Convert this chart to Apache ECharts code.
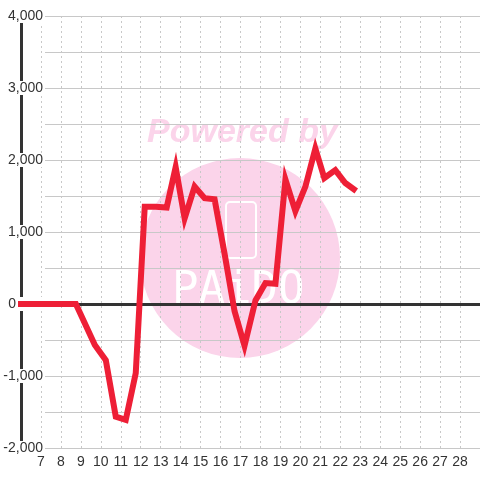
<!DOCTYPE html>
<html>
<head>
<meta charset="utf-8">
<script src="https://cdn.jsdelivr.net/npm/echarts@6/dist/echarts.min.js"></script>
<style>
  html, body { margin: 0; padding: 0; background: #fff; }
  #chart { width: 480px; height: 480px; }
</style>
</head>
<body>
<div id="chart"></div>
<script>
// x positions (days) and values
const xs = [5.8, 8.75, 9.7, 10.25, 10.75, 11.25, 11.75, 12.2, 12.75, 13.3, 13.75, 14.2, 14.7, 15.2, 15.7,
            16.2, 16.7, 17.2, 17.75, 18.25, 18.75, 19.25, 19.75, 20.25, 20.75, 21.2, 21.75, 22.25, 22.8]
const values = [0, 0, -570, -780, -1565, -1610, -960, 1350, 1350, 1340, 1900, 1190, 1630, 1470, 1455,
                700, -100, -580, 50, 290, 280, 1730, 1290, 1630, 2160, 1750, 1860, 1680, 1570]
const yTicks = [-2000, -1000, 0, 1000, 2000, 3000, 4000]

const chart = echarts.init(document.getElementById('chart'))

// "0" sits left of where the line starts, others end near x=43
const fmt = v => v === 0 ? '{z|0}' : v.toLocaleString('en-US')

chart.setOption({
    animation: false,
    backgroundColor: '#fff',
    textStyle: { fontFamily: 'Liberation Sans' },
    grid: [
        { left: 21, width: 460, top: 16, bottom: 32 },
        { left: 45, right: 0, top: 16, bottom: 32 }
    ],
    graphic: [
        {
            type: 'circle', z: -10,
            shape: { cx: 240, cy: 258, r: 100 },
            style: { fill: '#fbd4ea' }
        },
        {
            type: 'text', z: -10, left: 147, top: 116,
            style: {
                text: 'Powered by', fill: '#fbd4ea',
                font: 'italic bold 34px "Liberation Sans"'
            }
        },
        {
            type: 'rect', z: -9,
            shape: { x: 226, y: 202, width: 30, height: 56, r: 4 },
            style: { fill: 'none', stroke: '#fff', lineWidth: 2 }
        },
        {
            type: 'text', z: -9, left: 172, top: 270,
            style: {
                text: 'PAiDO', fill: '#fff',
                font: '44px "DejaVu Sans Mono"'
            }
        }
    ],
    xAxis: [
        {
            type: 'value', gridIndex: 0, min: 6, max: 29, interval: 1,
            axisLine: { show: false },
            axisTick: { show: false },
            axisLabel: {
                color: '#333', fontSize: 14, margin: 7,
                showMinLabel: false, showMaxLabel: false
            },
            splitLine: { show: true, lineStyle: { color: '#c8c8c8', type: [2, 3] } }
        },
        {
            type: 'value', gridIndex: 1, min: 0, max: 1,
            axisLine: { show: true, onZero: true, lineStyle: { color: '#333', width: 3 } },
            axisTick: { show: false },
            axisLabel: { show: false },
            splitLine: { show: false }
        }
    ],
    yAxis: [
        {
            type: 'value', gridIndex: 0, min: yTicks[0], max: yTicks[yTicks.length - 1], interval: 1000,
            axisLine: { show: true, lineStyle: { color: '#333', width: 3 } },
            axisTick: { show: false },
            axisLabel: {
                color: '#333', fontSize: 14, margin: -22, lineHeight: 14,
                backgroundColor: '#fff',
                formatter: fmt,
                rich: {
                    z: { color: '#333', fontSize: 14, padding: [0, 27, 0, 0], backgroundColor: 'transparent' }
                }
            },
            splitLine: { show: false }
        },
        {
            type: 'value', gridIndex: 1, min: -2000, max: 4000, interval: 500,
            axisLine: { show: false },
            axisTick: { show: false },
            axisLabel: { show: false },
            splitLine: { show: true, lineStyle: { color: '#c8c8c8', width: 1 } }
        }
    ],
    series: [
        {
            type: 'line',
            xAxisIndex: 0, yAxisIndex: 0,
            data: xs.map((x, i) => [x, values[i]]),
            showSymbol: false,
            clip: false,
            lineStyle: { color: '#ee1f36', width: 6, join: 'miter' }
        }
    ]
})
</script>
</body>
</html>
